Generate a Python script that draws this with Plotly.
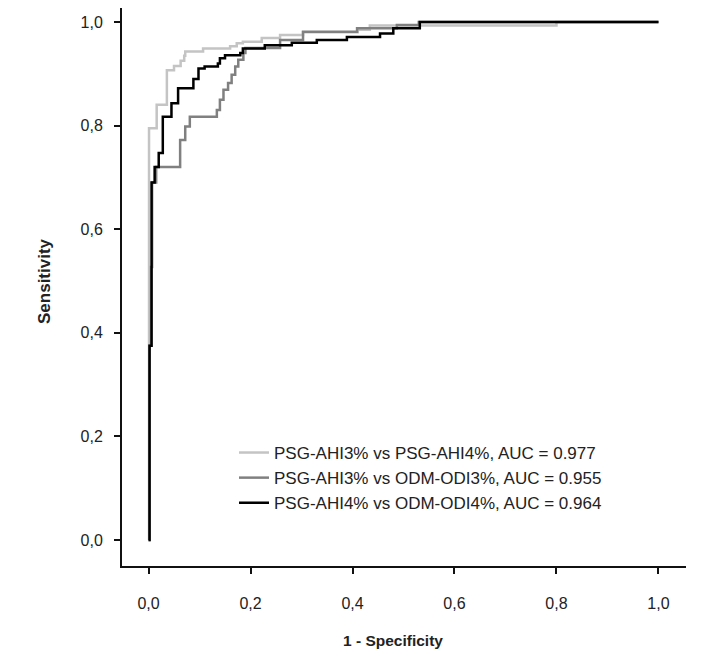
import plotly.graph_objects as go

# ROC curves (1 - specificity, sensitivity), step points ("hv")
fpr_ahi3_ahi4 = [0.0, 0.001, 0.016, 0.036, 0.050, 0.063, 0.070, 0.072, 0.107, 0.160, 0.173, 0.185,
                 0.222, 0.258, 0.303, 0.410, 0.434, 0.800, 1.0]
tpr_ahi3_ahi4 = [0.0, 0.795, 0.840, 0.907, 0.915, 0.925, 0.935, 0.943, 0.949, 0.953, 0.959, 0.962,
                 0.969, 0.975, 0.980, 0.985, 0.993, 1.000, 1.0]

fpr_ahi3_odi3 = [0.0, 0.002, 0.005, 0.007, 0.015, 0.062, 0.072, 0.081, 0.134, 0.140, 0.147, 0.156,
                 0.163, 0.170, 0.176, 0.186, 0.190, 0.258, 0.303, 0.409, 0.487, 0.530, 1.0]
tpr_ahi3_odi3 = [0.0, 0.375, 0.527, 0.690, 0.720, 0.772, 0.798, 0.817, 0.830, 0.850, 0.869, 0.882,
                 0.898, 0.914, 0.927, 0.940, 0.950, 0.965, 0.981, 0.988, 0.994, 1.000, 1.0]

fpr_ahi4_odi4 = [0.0, 0.002, 0.006, 0.012, 0.020, 0.028, 0.045, 0.058, 0.088, 0.098, 0.110, 0.136,
                 0.140, 0.150, 0.180, 0.185, 0.228, 0.281, 0.330, 0.389, 0.454, 0.480, 0.532, 1.0]
tpr_ahi4_odi4 = [0.0, 0.375, 0.690, 0.720, 0.747, 0.817, 0.843, 0.872, 0.890, 0.910, 0.914, 0.920,
                 0.930, 0.936, 0.940, 0.949, 0.955, 0.960, 0.965, 0.971, 0.978, 0.988, 1.000, 1.0]

series_names = ["PSG-AHI3% vs PSG-AHI4%, AUC = 0.977",
                "PSG-AHI3% vs ODM-ODI3%, AUC = 0.955",
                "PSG-AHI4% vs ODM-ODI4%, AUC = 0.964"]
series_colors = ["#c4c4c4", "#808080", "#000000"]

x_ticks = [0.0, 0.2, 0.4, 0.6, 0.8, 1.0]
x_tick_labels = ["0,0", "0,2", "0,4", "0,6", "0,8", "1,0"]
y_ticks = [0.0, 0.2, 0.4, 0.6, 0.8, 1.0]
y_tick_labels = ["0,0", "0,2", "0,4", "0,6", "0,8", "1,0"]

FONT = "Arial, Liberation Sans, sans-serif"

fig = go.Figure()
for xs, ys, name, col in zip([fpr_ahi3_ahi4, fpr_ahi3_odi3, fpr_ahi4_odi4],
                             [tpr_ahi3_ahi4, tpr_ahi3_odi3, tpr_ahi4_odi4],
                             series_names, series_colors):
    fig.add_trace(go.Scatter(x=xs, y=ys, mode="lines", name=name,
                             line=dict(color=col, width=2.5, shape="hv")))

axis_common = dict(showgrid=False, zeroline=False, showline=True, linecolor="#111",
                   linewidth=2, ticks="outside", ticklen=6, tickwidth=1.5, tickcolor="#111",
                   tickfont=dict(family=FONT, size=16, color="#222"))

fig.update_xaxes(range=[-0.052, 1.054], tickvals=x_ticks, ticktext=x_tick_labels,
                 ticklabelstandoff=16, **axis_common)
fig.update_yaxes(range=[-0.0502, 1.027], tickvals=y_ticks, ticktext=y_tick_labels,
                 ticklabelstandoff=8, **axis_common)

fig.add_annotation(text="<b>1 - Specificity</b>", xref="x", x=0.479, yref="paper", y=-0.1344,
                   showarrow=False, yanchor="middle", xanchor="center",
                   font=dict(family=FONT, size=15.5, color="#222"))
fig.add_annotation(text="<b>Sensitivity</b>", xref="paper", x=-0.1365, yref="y", y=0.5,
                   showarrow=False, textangle=-90, xanchor="center", yanchor="middle",
                   font=dict(family=FONT, size=17, color="#222"))

fig.update_layout(
    width=706, height=650,
    margin=dict(l=114, r=28, t=0, b=92),
    plot_bgcolor="white", paper_bgcolor="white",
    showlegend=True,
    legend=dict(x=0.1986, y=0.2348, xanchor="left", yanchor="top",
                bgcolor="rgba(0,0,0,0)", borderwidth=0, tracegroupgap=0,
                font=dict(family=FONT, size=17, color="#222")),
)

fig.write_html("out.html")
